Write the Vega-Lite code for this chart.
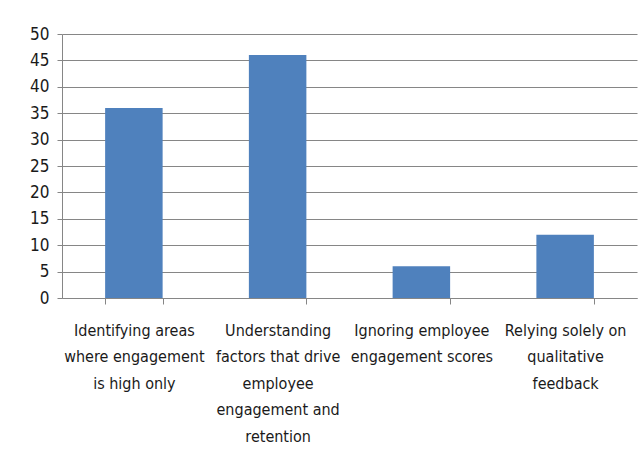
{
  "$schema": "https://vega.github.io/schema/vega-lite/v6.json",
  "autosize": "none",
  "width": 575,
  "height": 264,
  "padding": {"left": 62, "top": 34, "right": 7, "bottom": 168},
  "background": "white",
  "data": {
    "values": [
      {"category": "Identifying areas|where engagement|is high only", "value": 36},
      {"category": "Understanding|factors that drive|employee|engagement and|retention", "value": 46},
      {"category": "Ignoring employee|engagement scores", "value": 6},
      {"category": "Relying solely on|qualitative|feedback", "value": 12}
    ]
  },
  "mark": {"type": "bar", "color": "#4F81BD"},
  "encoding": {
    "x": {
      "field": "category",
      "type": "nominal",
      "sort": null,
      "scale": {"paddingInner": 0.6, "paddingOuter": 0.3},
      "axis": {
        "title": null,
        "labelAngle": 0,
        "labelExpr": "datum.value ? split(datum.value, '|') : ''",
        "labelFont": "Liberation Sans Narrow, DejaVu Sans Condensed, Lato",
        "labelFontSize": 16,
        "labelLineHeight": 26.5,
        "labelColor": "#1a1a1a",
        "labelPadding": 18,
        "labelLimit": 0,
        "tickBand": "extent",
        "tickSize": 6,
        "tickColor": "#868686",
        "domainColor": "#868686",
        "grid": false
      }
    },
    "y": {
      "field": "value",
      "type": "quantitative",
      "scale": {"domain": [0, 50], "nice": false},
      "axis": {
        "title": null,
        "values": [0, 5, 10, 15, 20, 25, 30, 35, 40, 45, 50],
        "labelFont": "Liberation Sans Narrow, DejaVu Sans Condensed, Lato",
        "labelFontSize": 17,
        "labelColor": "#1a1a1a",
        "labelPadding": 8,
        "tickSize": 5,
        "tickColor": "#868686",
        "domainColor": "#868686",
        "gridColor": "#868686",
        "gridWidth": 1
      }
    }
  },
  "config": {"view": {"stroke": null}}
}
